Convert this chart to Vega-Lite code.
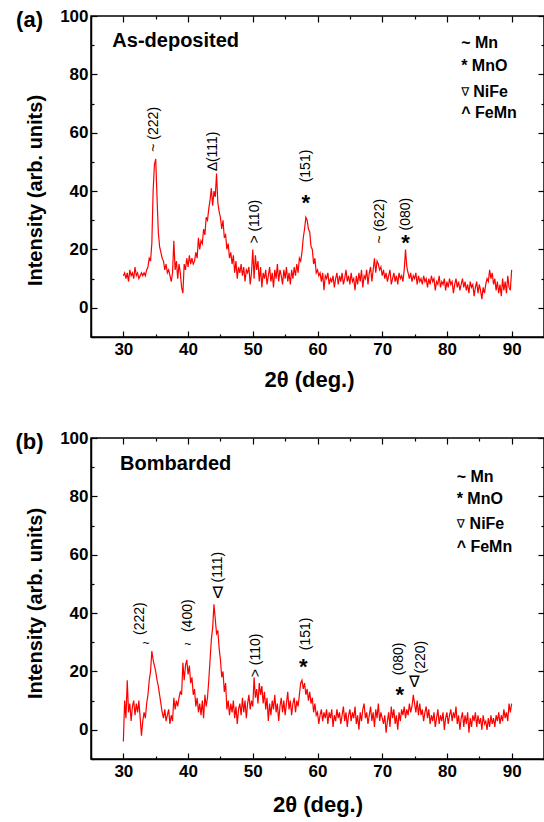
{
"$schema": "https://vega.github.io/schema/vega-lite/v6.json",
"padding": {"left": 14, "top": 6, "right": 0, "bottom": 5},
"config": {
  "view": {"stroke": "black", "strokeWidth": 1.5},
  "axis": {"grid": false, "domainColor": "black", "domainWidth": 1.5, "tickColor": "black", "tickWidth": 1.2,
           "labelFont": "Liberation Sans", "labelFontWeight": "bold", "labelFontSize": 17, "labelColor": "black",
           "titleFont": "Liberation Sans", "titleFontWeight": "bold", "titleFontSize": 20, "titleColor": "black"}
},
"datasets": {
"a": [
{"x":30,"y":11},{"x":30.2,"y":12},{"x":30.4,"y":10},{"x":30.6,"y":12},{"x":30.8,"y":9},{"x":31,"y":13},{"x":31.2,"y":11},{"x":31.4,"y":12},{"x":31.6,"y":10},{"x":31.8,"y":14},
{"x":32,"y":11},{"x":32.2,"y":12},{"x":32.4,"y":10},{"x":32.6,"y":11},{"x":32.8,"y":12},{"x":33,"y":11},{"x":33.2,"y":12},{"x":33.4,"y":11},{"x":33.6,"y":13},{"x":33.8,"y":14},
{"x":34,"y":17},{"x":34.2,"y":16},{"x":34.4,"y":22},{"x":34.6,"y":40},{"x":34.8,"y":49},{"x":35,"y":51},{"x":35.2,"y":38},{"x":35.4,"y":26},{"x":35.6,"y":21},{"x":35.8,"y":19},
{"x":36,"y":17},{"x":36.2,"y":16},{"x":36.4,"y":13},{"x":36.6,"y":15},{"x":36.8,"y":12},{"x":37,"y":13},{"x":37.2,"y":11},{"x":37.4,"y":9},{"x":37.6,"y":12},{"x":37.8,"y":23},
{"x":38,"y":13},{"x":38.2,"y":16},{"x":38.4,"y":10},{"x":38.6,"y":15},{"x":38.8,"y":12},{"x":39,"y":7},{"x":39.2,"y":5},{"x":39.4,"y":15},{"x":39.6,"y":13},{"x":39.8,"y":17},
{"x":40,"y":14},{"x":40.2,"y":18},{"x":40.4,"y":15},{"x":40.6,"y":17},{"x":40.8,"y":15},{"x":41,"y":16},{"x":41.2,"y":19},{"x":41.4,"y":17},{"x":41.6,"y":24},{"x":41.8,"y":20},
{"x":42,"y":23},{"x":42.2,"y":22},{"x":42.4,"y":27},{"x":42.6,"y":25},{"x":42.8,"y":31},{"x":43,"y":30},{"x":43.2,"y":34},{"x":43.4,"y":37},{"x":43.6,"y":41},{"x":43.8,"y":35},
{"x":44,"y":40},{"x":44.2,"y":38},{"x":44.4,"y":46},{"x":44.6,"y":36},{"x":44.8,"y":33},{"x":45,"y":31},{"x":45.2,"y":27},{"x":45.4,"y":30},{"x":45.6,"y":24},{"x":45.8,"y":25},
{"x":46,"y":20},{"x":46.2,"y":22},{"x":46.4,"y":17},{"x":46.6,"y":19},{"x":46.8,"y":15},{"x":47,"y":18},{"x":47.2,"y":12},{"x":47.4,"y":16},{"x":47.6,"y":10},{"x":47.8,"y":14},
{"x":48,"y":12},{"x":48.2,"y":15},{"x":48.4,"y":11},{"x":48.6,"y":14},{"x":48.8,"y":9},{"x":49,"y":13},{"x":49.2,"y":12},{"x":49.4,"y":14},{"x":49.6,"y":8},{"x":49.8,"y":12},
{"x":50,"y":20},{"x":50.2,"y":10},{"x":50.4,"y":18},{"x":50.6,"y":13},{"x":50.8,"y":16},{"x":51,"y":9},{"x":51.2,"y":14},{"x":51.4,"y":7},{"x":51.6,"y":12},{"x":51.8,"y":10},
{"x":52,"y":13},{"x":52.2,"y":8},{"x":52.4,"y":11},{"x":52.6,"y":14},{"x":52.8,"y":9},{"x":53,"y":12},{"x":53.2,"y":7},{"x":53.4,"y":13},{"x":53.6,"y":10},{"x":53.8,"y":15},
{"x":54,"y":9},{"x":54.2,"y":13},{"x":54.4,"y":11},{"x":54.6,"y":8},{"x":54.8,"y":13},{"x":55,"y":10},{"x":55.2,"y":14},{"x":55.4,"y":9},{"x":55.6,"y":12},{"x":55.8,"y":8},
{"x":56,"y":13},{"x":56.2,"y":10},{"x":56.4,"y":14},{"x":56.6,"y":11},{"x":56.8,"y":15},{"x":57,"y":12},{"x":57.2,"y":17},{"x":57.4,"y":16},{"x":57.6,"y":19},{"x":57.8,"y":24},
{"x":58,"y":27},{"x":58.2,"y":31},{"x":58.4,"y":30},{"x":58.6,"y":27},{"x":58.8,"y":26},{"x":59,"y":21},{"x":59.2,"y":20},{"x":59.4,"y":15},{"x":59.6,"y":17},{"x":59.8,"y":12},
{"x":60,"y":13},{"x":60.2,"y":11},{"x":60.4,"y":12},{"x":60.6,"y":9},{"x":60.8,"y":12},{"x":61,"y":6},{"x":61.2,"y":11},{"x":61.4,"y":10},{"x":61.6,"y":12},{"x":61.8,"y":8},
{"x":62,"y":10},{"x":62.2,"y":9},{"x":62.4,"y":11},{"x":62.6,"y":7},{"x":62.8,"y":10},{"x":63,"y":12},{"x":63.2,"y":8},{"x":63.4,"y":11},{"x":63.6,"y":9},{"x":63.8,"y":12},
{"x":64,"y":8},{"x":64.2,"y":10},{"x":64.4,"y":13},{"x":64.6,"y":9},{"x":64.8,"y":11},{"x":65,"y":8},{"x":65.2,"y":12},{"x":65.4,"y":9},{"x":65.6,"y":10},{"x":65.8,"y":6},
{"x":66,"y":11},{"x":66.2,"y":8},{"x":66.4,"y":12},{"x":66.6,"y":9},{"x":66.8,"y":13},{"x":67,"y":7},{"x":67.2,"y":11},{"x":67.4,"y":10},{"x":67.6,"y":13},{"x":67.8,"y":8},
{"x":68,"y":12},{"x":68.2,"y":14},{"x":68.4,"y":9},{"x":68.6,"y":13},{"x":68.8,"y":17},{"x":69,"y":12},{"x":69.2,"y":16},{"x":69.4,"y":15},{"x":69.6,"y":13},{"x":69.8,"y":14},
{"x":70,"y":11},{"x":70.2,"y":13},{"x":70.4,"y":10},{"x":70.6,"y":12},{"x":70.8,"y":9},{"x":71,"y":11},{"x":71.2,"y":13},{"x":71.4,"y":8},{"x":71.6,"y":10},{"x":71.8,"y":12},
{"x":72,"y":9},{"x":72.2,"y":11},{"x":72.4,"y":8},{"x":72.6,"y":12},{"x":72.8,"y":10},{"x":73,"y":11},{"x":73.2,"y":9},{"x":73.4,"y":13},{"x":73.6,"y":20},{"x":73.8,"y":14},
{"x":74,"y":12},{"x":74.2,"y":10},{"x":74.4,"y":12},{"x":74.6,"y":9},{"x":74.8,"y":11},{"x":75,"y":10},{"x":75.2,"y":12},{"x":75.4,"y":8},{"x":75.6,"y":11},{"x":75.8,"y":9},
{"x":76,"y":10},{"x":76.2,"y":8},{"x":76.4,"y":11},{"x":76.6,"y":9},{"x":76.8,"y":10},{"x":77,"y":7},{"x":77.2,"y":10},{"x":77.4,"y":8},{"x":77.6,"y":11},{"x":77.8,"y":9},
{"x":78,"y":10},{"x":78.2,"y":6},{"x":78.4,"y":9},{"x":78.6,"y":8},{"x":78.8,"y":11},{"x":79,"y":7},{"x":79.2,"y":9},{"x":79.4,"y":8},{"x":79.6,"y":10},{"x":79.8,"y":6},
{"x":80,"y":9},{"x":80.2,"y":7},{"x":80.4,"y":10},{"x":80.6,"y":8},{"x":80.8,"y":9},{"x":81,"y":5},{"x":81.2,"y":8},{"x":81.4,"y":10},{"x":81.6,"y":7},{"x":81.8,"y":9},
{"x":82,"y":6},{"x":82.2,"y":8},{"x":82.4,"y":10},{"x":82.6,"y":7},{"x":82.8,"y":9},{"x":83,"y":6},{"x":83.2,"y":8},{"x":83.4,"y":5},{"x":83.6,"y":9},{"x":83.8,"y":7},
{"x":84,"y":8},{"x":84.2,"y":4},{"x":84.4,"y":7},{"x":84.6,"y":9},{"x":84.8,"y":5},{"x":85,"y":8},{"x":85.2,"y":6},{"x":85.4,"y":3},{"x":85.6,"y":7},{"x":85.8,"y":5},
{"x":86,"y":8},{"x":86.2,"y":10},{"x":86.4,"y":9},{"x":86.6,"y":13},{"x":86.8,"y":10},{"x":87,"y":12},{"x":87.2,"y":8},{"x":87.4,"y":10},{"x":87.6,"y":6},{"x":87.8,"y":9},
{"x":88,"y":5},{"x":88.2,"y":8},{"x":88.4,"y":4},{"x":88.6,"y":10},{"x":88.8,"y":6},{"x":89,"y":9},{"x":89.2,"y":5},{"x":89.4,"y":11},{"x":89.6,"y":7},{"x":89.8,"y":6},{"x":90,"y":13}
],
"b": [
{"x":30,"y":-4},{"x":30.2,"y":10},{"x":30.4,"y":4},{"x":30.6,"y":17},{"x":30.8,"y":6},{"x":31,"y":9},{"x":31.2,"y":3},{"x":31.4,"y":8},{"x":31.6,"y":10},{"x":31.8,"y":5},
{"x":32,"y":9},{"x":32.2,"y":6},{"x":32.4,"y":10},{"x":32.6,"y":4},{"x":32.8,"y":-2},{"x":33,"y":3},{"x":33.2,"y":6},{"x":33.4,"y":4},{"x":33.6,"y":9},{"x":33.8,"y":12},
{"x":34,"y":17},{"x":34.2,"y":20},{"x":34.4,"y":27},{"x":34.6,"y":24},{"x":34.8,"y":22},{"x":35,"y":20},{"x":35.2,"y":17},{"x":35.4,"y":15},{"x":35.6,"y":12},{"x":35.8,"y":9},
{"x":36,"y":6},{"x":36.2,"y":4},{"x":36.4,"y":7},{"x":36.6,"y":3},{"x":36.8,"y":5},{"x":37,"y":7},{"x":37.2,"y":2},{"x":37.4,"y":5},{"x":37.6,"y":3},{"x":37.8,"y":11},
{"x":38,"y":7},{"x":38.2,"y":10},{"x":38.4,"y":8},{"x":38.6,"y":11},{"x":38.8,"y":13},{"x":39,"y":12},{"x":39.2,"y":23},{"x":39.4,"y":17},{"x":39.6,"y":22},{"x":39.8,"y":24},
{"x":40,"y":19},{"x":40.2,"y":22},{"x":40.4,"y":16},{"x":40.6,"y":18},{"x":40.8,"y":12},{"x":41,"y":14},{"x":41.2,"y":8},{"x":41.4,"y":11},{"x":41.6,"y":6},{"x":41.8,"y":9},
{"x":42,"y":5},{"x":42.2,"y":10},{"x":42.4,"y":4},{"x":42.6,"y":12},{"x":42.8,"y":8},{"x":43,"y":11},{"x":43.2,"y":17},{"x":43.4,"y":24},{"x":43.6,"y":31},{"x":43.8,"y":35},
{"x":44,"y":43},{"x":44.2,"y":38},{"x":44.4,"y":33},{"x":44.6,"y":34},{"x":44.8,"y":28},{"x":45,"y":24},{"x":45.2,"y":18},{"x":45.4,"y":20},{"x":45.6,"y":13},{"x":45.8,"y":16},
{"x":46,"y":7},{"x":46.2,"y":10},{"x":46.4,"y":5},{"x":46.6,"y":9},{"x":46.8,"y":6},{"x":47,"y":10},{"x":47.2,"y":4},{"x":47.4,"y":8},{"x":47.6,"y":2},{"x":47.8,"y":7},
{"x":48,"y":9},{"x":48.2,"y":5},{"x":48.4,"y":11},{"x":48.6,"y":6},{"x":48.8,"y":10},{"x":49,"y":4},{"x":49.2,"y":9},{"x":49.4,"y":12},{"x":49.6,"y":7},{"x":49.8,"y":10},
{"x":50,"y":8},{"x":50.2,"y":18},{"x":50.4,"y":11},{"x":50.6,"y":14},{"x":50.8,"y":9},{"x":51,"y":16},{"x":51.2,"y":12},{"x":51.4,"y":15},{"x":51.6,"y":9},{"x":51.8,"y":13},
{"x":52,"y":7},{"x":52.2,"y":11},{"x":52.4,"y":3},{"x":52.6,"y":9},{"x":52.8,"y":5},{"x":53,"y":10},{"x":53.2,"y":7},{"x":53.4,"y":12},{"x":53.6,"y":6},{"x":53.8,"y":9},
{"x":54,"y":3},{"x":54.2,"y":8},{"x":54.4,"y":11},{"x":54.6,"y":6},{"x":54.8,"y":10},{"x":55,"y":5},{"x":55.2,"y":9},{"x":55.4,"y":13},{"x":55.6,"y":7},{"x":55.8,"y":10},
{"x":56,"y":5},{"x":56.2,"y":9},{"x":56.4,"y":11},{"x":56.6,"y":6},{"x":56.8,"y":10},{"x":57,"y":8},{"x":57.2,"y":12},{"x":57.4,"y":16},{"x":57.6,"y":17},{"x":57.8,"y":14},
{"x":58,"y":16},{"x":58.2,"y":12},{"x":58.4,"y":14},{"x":58.6,"y":10},{"x":58.8,"y":13},{"x":59,"y":9},{"x":59.2,"y":11},{"x":59.4,"y":6},{"x":59.6,"y":9},{"x":59.8,"y":5},
{"x":60,"y":6},{"x":60.2,"y":2},{"x":60.4,"y":5},{"x":60.6,"y":7},{"x":60.8,"y":3},{"x":61,"y":6},{"x":61.2,"y":4},{"x":61.4,"y":7},{"x":61.6,"y":2},{"x":61.8,"y":6},
{"x":62,"y":4},{"x":62.2,"y":7},{"x":62.4,"y":1},{"x":62.6,"y":5},{"x":62.8,"y":3},{"x":63,"y":7},{"x":63.2,"y":4},{"x":63.4,"y":6},{"x":63.6,"y":2},{"x":63.8,"y":5},
{"x":64,"y":8},{"x":64.2,"y":3},{"x":64.4,"y":6},{"x":64.6,"y":1},{"x":64.8,"y":5},{"x":65,"y":7},{"x":65.2,"y":3},{"x":65.4,"y":6},{"x":65.6,"y":4},{"x":65.8,"y":8},
{"x":66,"y":2},{"x":66.2,"y":5},{"x":66.4,"y":0},{"x":66.6,"y":6},{"x":66.8,"y":3},{"x":67,"y":7},{"x":67.2,"y":9},{"x":67.4,"y":4},{"x":67.6,"y":6},{"x":67.8,"y":2},
{"x":68,"y":5},{"x":68.2,"y":8},{"x":68.4,"y":3},{"x":68.6,"y":6},{"x":68.8,"y":1},{"x":69,"y":7},{"x":69.2,"y":4},{"x":69.4,"y":9},{"x":69.6,"y":3},{"x":69.8,"y":6},
{"x":70,"y":4},{"x":70.2,"y":2},{"x":70.4,"y":5},{"x":70.6,"y":-1},{"x":70.8,"y":3},{"x":71,"y":6},{"x":71.2,"y":1},{"x":71.4,"y":8},{"x":71.6,"y":4},{"x":71.8,"y":7},
{"x":72,"y":2},{"x":72.2,"y":5},{"x":72.4,"y":0},{"x":72.6,"y":6},{"x":72.8,"y":3},{"x":73,"y":7},{"x":73.2,"y":5},{"x":73.4,"y":8},{"x":73.6,"y":4},{"x":73.8,"y":7},
{"x":74,"y":5},{"x":74.2,"y":9},{"x":74.4,"y":6},{"x":74.6,"y":8},{"x":74.8,"y":12},{"x":75,"y":9},{"x":75.2,"y":6},{"x":75.4,"y":10},{"x":75.6,"y":5},{"x":75.8,"y":9},
{"x":76,"y":5},{"x":76.2,"y":7},{"x":76.4,"y":3},{"x":76.6,"y":6},{"x":76.8,"y":8},{"x":77,"y":4},{"x":77.2,"y":7},{"x":77.4,"y":2},{"x":77.6,"y":5},{"x":77.8,"y":3},
{"x":78,"y":6},{"x":78.2,"y":1},{"x":78.4,"y":4},{"x":78.6,"y":7},{"x":78.8,"y":2},{"x":79,"y":5},{"x":79.2,"y":3},{"x":79.4,"y":6},{"x":79.6,"y":0},{"x":79.8,"y":4},
{"x":80,"y":6},{"x":80.2,"y":2},{"x":80.4,"y":5},{"x":80.6,"y":7},{"x":80.8,"y":3},{"x":81,"y":6},{"x":81.2,"y":4},{"x":81.4,"y":8},{"x":81.6,"y":2},{"x":81.8,"y":5},
{"x":82,"y":0},{"x":82.2,"y":4},{"x":82.4,"y":6},{"x":82.6,"y":1},{"x":82.8,"y":5},{"x":83,"y":2},{"x":83.2,"y":6},{"x":83.4,"y":-1},{"x":83.6,"y":4},{"x":83.8,"y":1},
{"x":84,"y":5},{"x":84.2,"y":3},{"x":84.4,"y":6},{"x":84.6,"y":1},{"x":84.8,"y":5},{"x":85,"y":2},{"x":85.2,"y":4},{"x":85.4,"y":0},{"x":85.6,"y":5},{"x":85.8,"y":2},
{"x":86,"y":3},{"x":86.2,"y":0},{"x":86.4,"y":4},{"x":86.6,"y":1},{"x":86.8,"y":5},{"x":87,"y":2},{"x":87.2,"y":4},{"x":87.4,"y":1},{"x":87.6,"y":5},{"x":87.8,"y":3},
{"x":88,"y":6},{"x":88.2,"y":2},{"x":88.4,"y":5},{"x":88.6,"y":3},{"x":88.8,"y":7},{"x":89,"y":4},{"x":89.2,"y":6},{"x":89.4,"y":3},{"x":89.6,"y":9},{"x":89.8,"y":6},{"x":90,"y":9}
],
"annA": [
{"kind":"rot","x":34.7,"y":53.5,"t":"~ (222)"},
{"kind":"rot","x":43.8,"y":47,"t":"∆(111)"},
{"kind":"rot","x":50.3,"y":22,"t":"> (110)"},
{"kind":"rot","x":58.2,"y":43,"t":"(151)"},
{"kind":"rot","x":69.6,"y":22,"t":"~ (622)"},
{"kind":"rot","x":73.6,"y":26.5,"t":"(080)"},
{"kind":"star","x":58.2,"y":37.5,"t":"*"},
{"kind":"star","x":73.6,"y":24,"t":"*"},
{"kind":"legend","x":82.2,"y":90.6,"t":"~ Mn"},
{"kind":"legend","x":82.2,"y":82.9,"t":"* MnO"},
{"kind":"legend","x":84.05,"y":74.1,"t":"NiFe"},
{"kind":"legsym","x":82.2,"y":74.1,"t":"∇"},
{"kind":"legend","x":82.2,"y":66.6,"t":"^ FeMn"},
{"kind":"title","x":28.3,"y":91.6,"t":"As-deposited"},
{"kind":"panel","x":15.5,"y":98.5,"t":"(a)"}
],
"annB": [
{"kind":"rot","x":32.5,"y":32.5,"t":"(222)"},
{"kind":"rot","x":39.95,"y":33.5,"t":"(400)"},
{"kind":"rot","x":44.6,"y":50.5,"t":"(111)"},
{"kind":"rot","x":50.5,"y":18,"t":"> (110)"},
{"kind":"rot","x":58.3,"y":27.3,"t":"(151)"},
{"kind":"rot","x":72.6,"y":18.7,"t":"(080)"},
{"kind":"rot","x":76.0,"y":19.3,"t":"(220)"},
{"kind":"tilde","x":33.5,"y":29.7,"t":"~"},
{"kind":"tilde","x":39.95,"y":29.5,"t":"~"},
{"kind":"tri","x":44.6,"y":47,"t":"∇"},
{"kind":"tri","x":74.95,"y":16.4,"t":"∇"},
{"kind":"star","x":57.8,"y":23.3,"t":"*"},
{"kind":"star","x":72.7,"y":13.8,"t":"*"},
{"kind":"legend","x":81.5,"y":86.7,"t":"~ Mn"},
{"kind":"legend","x":81.5,"y":79.0,"t":"* MnO"},
{"kind":"legend","x":83.5,"y":70.7,"t":"NiFe"},
{"kind":"legsym","x":81.5,"y":70.7,"t":"∇"},
{"kind":"legend","x":81.5,"y":62.8,"t":"^ FeMn"},
{"kind":"title","x":29.5,"y":91.1,"t":"Bombarded"},
{"kind":"panel","x":15.5,"y":98.7,"t":"(b)"}
]
},
"vconcat": [
{
  "width": 453, "height": 321,
  "layer": [
    {"data": {"name": "a"},
     "mark": {"type": "line", "color": "#ff0000", "strokeWidth": 1.2},
     "encoding": {
       "x": {"field": "x", "type": "quantitative", "scale": {"domain": [25, 95], "nice": false, "zero": false},
             "axis": {"orient": "bottom", "values": [25,30,35,40,45,50,55,60,65,70,75,80,85,90,95],
                      "labelExpr": "datum.value % 10 === 0 && datum.value >= 30 && datum.value <= 90 ? datum.label : ''",
                      "tickSize": {"condition": {"test": "datum.value % 10 === 0", "value": -6}, "value": -3},
                      "labelPadding": 10, "title": "2θ (deg.)", "titleFontSize": 22, "titlePadding": 12, "titleX": 218}},
       "y": {"field": "y", "type": "quantitative", "scale": {"domain": [-10, 100], "nice": false, "zero": false},
             "axis": {"orient": "left", "values": [-10,0,10,20,30,40,50,60,70,80,90,100],
                      "labelExpr": "datum.value % 20 === 0 ? datum.label : ''",
                      "tickSize": {"condition": {"test": "datum.value % 20 === 0", "value": -6}, "value": -3},
                      "labelPadding": 9, "title": "Intensity (arb. units)", "titlePadding": 14, "titleY": 174}}
     }},
    {"data": {"name": "annA"}, "transform": [{"filter": "datum.kind === 'rot'"}],
     "mark": {"type": "text", "angle": 270, "align": "left", "baseline": "middle", "font": "Liberation Sans", "fontSize": 14, "color": "black"},
     "encoding": {
       "x": {"field": "x", "type": "quantitative",
             "axis": {"orient": "top", "values": [25,30,35,40,45,50,55,60,65,70,75,80,85,90,95], "labels": false, "domain": false, "title": null,
                      "tickSize": {"condition": {"test": "datum.value % 10 === 0", "value": -6}, "value": -3}}},
       "y": {"field": "y", "type": "quantitative",
             "axis": {"orient": "right", "values": [-10,0,10,20,30,40,50,60,70,80,90,100], "labels": false, "domain": false, "title": null,
                      "tickSize": {"condition": {"test": "datum.value % 20 === 0", "value": -6}, "value": -3}}},
       "text": {"field": "t"}
     }},
    {"data": {"name": "annA"}, "transform": [{"filter": "datum.kind === 'star'"}],
     "mark": {"type": "text", "align": "center", "baseline": "middle", "font": "Liberation Sans", "fontSize": 22, "fontWeight": "bold", "color": "black", "dy": 5},
     "encoding": {"x": {"field": "x", "type": "quantitative", "axis": null}, "y": {"field": "y", "type": "quantitative", "axis": null}, "text": {"field": "t"}}},
    {"data": {"name": "annA"}, "transform": [{"filter": "datum.kind === 'legend'"}],
     "mark": {"type": "text", "align": "left", "baseline": "middle", "font": "Liberation Sans", "fontSize": 16, "fontWeight": "bold", "color": "black"},
     "encoding": {"x": {"field": "x", "type": "quantitative", "axis": null}, "y": {"field": "y", "type": "quantitative", "axis": null}, "text": {"field": "t"}}},
    {"data": {"name": "annA"}, "transform": [{"filter": "datum.kind === 'legsym'"}],
     "mark": {"type": "text", "align": "left", "baseline": "middle", "font": "DejaVu Sans", "fontSize": 12, "color": "black"},
     "encoding": {"x": {"field": "x", "type": "quantitative", "axis": null}, "y": {"field": "y", "type": "quantitative", "axis": null}, "text": {"field": "t"}}},
    {"data": {"name": "annA"}, "transform": [{"filter": "datum.kind === 'title'"}],
     "mark": {"type": "text", "align": "left", "baseline": "middle", "font": "Liberation Sans", "fontSize": 20, "fontWeight": "bold", "color": "black"},
     "encoding": {"x": {"field": "x", "type": "quantitative", "axis": null}, "y": {"field": "y", "type": "quantitative", "axis": null}, "text": {"field": "t"}}},
    {"data": {"name": "annA"}, "transform": [{"filter": "datum.kind === 'panel'"}],
     "mark": {"type": "text", "align": "center", "baseline": "middle", "font": "Liberation Sans", "fontSize": 22, "fontWeight": "bold", "color": "black"},
     "encoding": {"x": {"field": "x", "type": "quantitative", "axis": null}, "y": {"field": "y", "type": "quantitative", "axis": null}, "text": {"field": "t"}}}
  ],
  "resolve": {"axis": {"x": "independent", "y": "independent"}}
},
{
  "width": 453, "height": 321,
  "layer": [
    {"data": {"name": "b"},
     "mark": {"type": "line", "color": "#ff0000", "strokeWidth": 1.2},
     "encoding": {
       "x": {"field": "x", "type": "quantitative", "scale": {"domain": [25, 95], "nice": false, "zero": false},
             "axis": {"orient": "bottom", "values": [25,30,35,40,45,50,55,60,65,70,75,80,85,90,95],
                      "labelExpr": "datum.value % 10 === 0 && datum.value >= 30 && datum.value <= 90 ? datum.label : ''",
                      "tickSize": {"condition": {"test": "datum.value % 10 === 0", "value": -6}, "value": -3},
                      "labelPadding": 10, "title": "2θ (deg.)", "titleFontSize": 22, "titlePadding": 15}},
       "y": {"field": "y", "type": "quantitative", "scale": {"domain": [-10, 100], "nice": false, "zero": false},
             "axis": {"orient": "left", "values": [-10,0,10,20,30,40,50,60,70,80,90,100],
                      "labelExpr": "datum.value % 20 === 0 ? datum.label : ''",
                      "tickSize": {"condition": {"test": "datum.value % 20 === 0", "value": -6}, "value": -3},
                      "labelPadding": 9, "title": "Intensity (arb. units)", "titlePadding": 14, "titleY": 165}}
     }},
    {"data": {"name": "annB"}, "transform": [{"filter": "datum.kind === 'rot'"}],
     "mark": {"type": "text", "angle": 270, "align": "left", "baseline": "middle", "font": "Liberation Sans", "fontSize": 14, "color": "black"},
     "encoding": {
       "x": {"field": "x", "type": "quantitative",
             "axis": {"orient": "top", "values": [25,30,35,40,45,50,55,60,65,70,75,80,85,90,95], "labels": false, "domain": false, "title": null,
                      "tickSize": {"condition": {"test": "datum.value % 10 === 0", "value": -6}, "value": -3}}},
       "y": {"field": "y", "type": "quantitative",
             "axis": {"orient": "right", "values": [-10,0,10,20,30,40,50,60,70,80,90,100], "labels": false, "domain": false, "title": null,
                      "tickSize": {"condition": {"test": "datum.value % 20 === 0", "value": -6}, "value": -3}}},
       "text": {"field": "t"}
     }},
    {"data": {"name": "annB"}, "transform": [{"filter": "datum.kind === 'star'"}],
     "mark": {"type": "text", "align": "center", "baseline": "middle", "font": "Liberation Sans", "fontSize": 22, "fontWeight": "bold", "color": "black", "dy": 5},
     "encoding": {"x": {"field": "x", "type": "quantitative", "axis": null}, "y": {"field": "y", "type": "quantitative", "axis": null}, "text": {"field": "t"}}},
    {"data": {"name": "annB"}, "transform": [{"filter": "datum.kind === 'tri'"}],
     "mark": {"type": "text", "align": "center", "baseline": "middle", "font": "DejaVu Sans", "fontSize": 16, "color": "black"},
     "encoding": {"x": {"field": "x", "type": "quantitative", "axis": null}, "y": {"field": "y", "type": "quantitative", "axis": null}, "text": {"field": "t"}}},
    {"data": {"name": "annB"}, "transform": [{"filter": "datum.kind === 'tilde'"}],
     "mark": {"type": "text", "align": "center", "baseline": "middle", "font": "Liberation Sans", "fontSize": 12, "color": "black"},
     "encoding": {"x": {"field": "x", "type": "quantitative", "axis": null}, "y": {"field": "y", "type": "quantitative", "axis": null}, "text": {"field": "t"}}},
    {"data": {"name": "annB"}, "transform": [{"filter": "datum.kind === 'legend'"}],
     "mark": {"type": "text", "align": "left", "baseline": "middle", "font": "Liberation Sans", "fontSize": 16, "fontWeight": "bold", "color": "black"},
     "encoding": {"x": {"field": "x", "type": "quantitative", "axis": null}, "y": {"field": "y", "type": "quantitative", "axis": null}, "text": {"field": "t"}}},
    {"data": {"name": "annB"}, "transform": [{"filter": "datum.kind === 'legsym'"}],
     "mark": {"type": "text", "align": "left", "baseline": "middle", "font": "DejaVu Sans", "fontSize": 12, "color": "black"},
     "encoding": {"x": {"field": "x", "type": "quantitative", "axis": null}, "y": {"field": "y", "type": "quantitative", "axis": null}, "text": {"field": "t"}}},
    {"data": {"name": "annB"}, "transform": [{"filter": "datum.kind === 'title'"}],
     "mark": {"type": "text", "align": "left", "baseline": "middle", "font": "Liberation Sans", "fontSize": 20, "fontWeight": "bold", "color": "black"},
     "encoding": {"x": {"field": "x", "type": "quantitative", "axis": null}, "y": {"field": "y", "type": "quantitative", "axis": null}, "text": {"field": "t"}}},
    {"data": {"name": "annB"}, "transform": [{"filter": "datum.kind === 'panel'"}],
     "mark": {"type": "text", "align": "center", "baseline": "middle", "font": "Liberation Sans", "fontSize": 22, "fontWeight": "bold", "color": "black"},
     "encoding": {"x": {"field": "x", "type": "quantitative", "axis": null}, "y": {"field": "y", "type": "quantitative", "axis": null}, "text": {"field": "t"}}}
  ],
  "resolve": {"axis": {"x": "independent", "y": "independent"}}
}
],
"spacing": 37
}
